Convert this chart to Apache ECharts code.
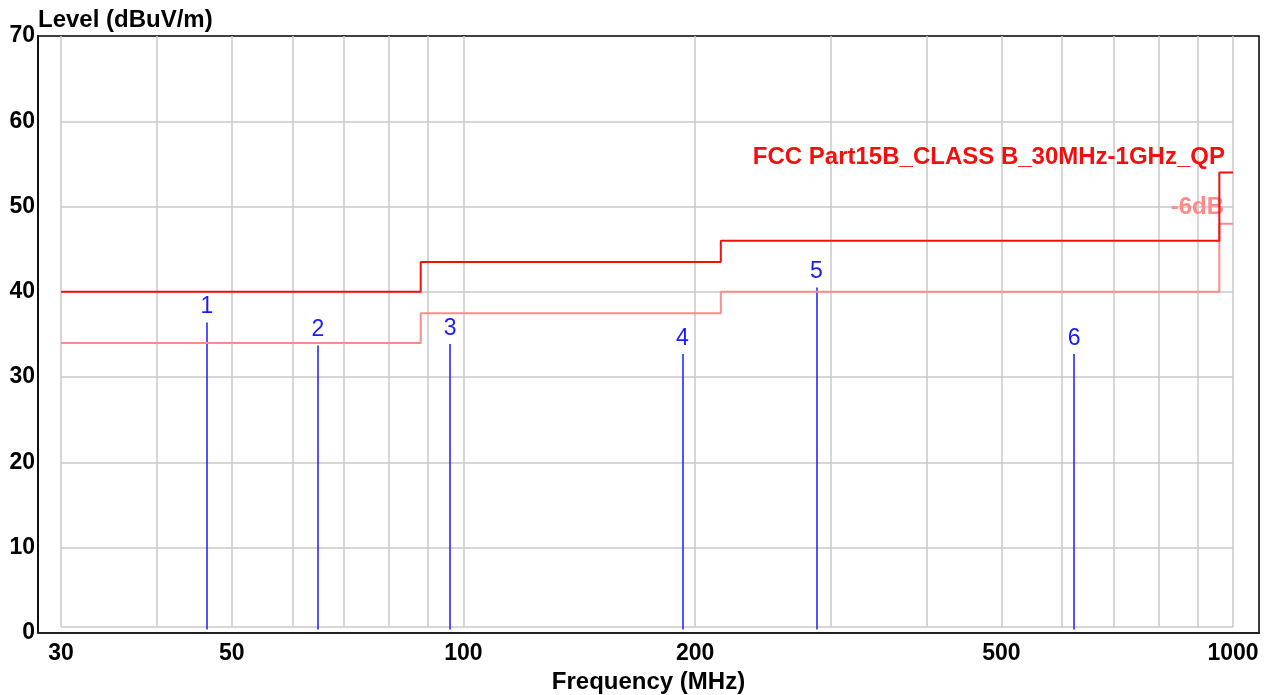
<!DOCTYPE html>
<html>
<head>
<meta charset="utf-8">
<script src="https://cdn.jsdelivr.net/npm/echarts@6/dist/echarts.min.js"></script>
<style>
html,body{margin:0;padding:0;background:#fff;}
#chart{width:1275px;height:695px;}
</style>
</head>
<body>
<div id="chart"></div>
<script>
// ---- data ----
const gridFreqs = [30,40,50,60,70,80,90,100,200,300,400,500,600,700,800,900,1000];
const freqLabels = [30,50,100,200,500,1000];
const levelGrid = [10,20,30,40,50,60];
const plotFloor = 0.7;
const limitFreq = [30,88,88,216,216,960,960,1000];
const limitQP   = [40,40,43.5,43.5,46,46,54,54];
const limit6dB  = [34,34,37.5,37.5,40,40,48,48];
const markerNo    = ['1','2','3','4','5','6'];
const markerFreq  = [46.4,64.7,96.1,192.5,287.5,621.9];
const markerLevel = [36.4,33.7,33.9,32.7,40.5,32.7];
const limitName = 'FCC Part15B_CLASS B_30MHz-1GHz_QP';
const marginName = '-6dB';

const FONT = '"Liberation Sans", Arial, sans-serif';

const chart = echarts.init(document.getElementById('chart'), null, {renderer:'canvas'});

const gridLines = [];
gridFreqs.forEach(f => gridLines.push([{coord:[f, plotFloor]},{coord:[f, 70]}]));
[plotFloor].concat(levelGrid).forEach(v => gridLines.push([{coord:[30, v]},{coord:[1000, v]}]));

const markerLines = markerFreq.map((f,i) => [
  {coord:[f, 0.4]},
  {coord:[f, markerLevel[i]], label:{formatter: markerNo[i]}}
]);

chart.setOption({
  animation:false,
  backgroundColor:'#fff',
  title:{
    text:'Level (dBuV/m)', left:33, top:3,
    textStyle:{fontFamily:FONT, fontSize:24, fontWeight:'bold', color:'#000'}
  },
  grid:{left:38, right:16, top:36, bottom:62, show:true, borderColor:'#000', borderWidth:1.5,
        containLabel:false, outerBoundsMode:'none'},
  xAxis:{
    type:'log', logBase:10, min:28, max:1081,
    name:'Frequency (MHz)', nameLocation:'middle', nameGap:33,
    nameTextStyle:{fontFamily:FONT, fontSize:24, fontWeight:'bold', color:'#000'},
    axisLine:{show:true, lineStyle:{color:'#222', width:2}},
    axisTick:{show:false}, splitLine:{show:false}, minorTick:{show:false},
    axisLabel:{customValues:freqLabels, margin:9, formatter:v => String(Math.round(v)),
      fontFamily:FONT, fontSize:23, fontWeight:'bold', color:'#000'}
  },
  yAxis:{
    type:'value', min:0, max:70, interval:10,
    axisLine:{show:true, lineStyle:{color:'#111', width:2}},
    axisTick:{show:false}, splitLine:{show:false},
    axisLabel:{margin:3, fontFamily:FONT, fontSize:23, fontWeight:'bold', color:'#000'}
  },
  series:[
    {
      type:'line', z:1, zlevel:0, data:[[30,0]], showSymbol:false, lineStyle:{opacity:0}, silent:true,
      markLine:{silent:true, symbol:['none','none'], label:{show:false},
        lineStyle:{color:'#c8c8c8', width:1.5, type:'solid'}, data:gridLines}
    },
    {
      type:'line', z:3, zlevel:1, showSymbol:false, data:limitFreq.map((f,i)=>[f, limit6dB[i]]),
      lineStyle:{color:'#ff8a8a', width:2},
      markPoint:{symbol:'circle', symbolSize:0, data:[{coord:[1000,48],
        label:{show:true, formatter:marginName, position:'left', distance:9, offset:[0,-16],
          fontFamily:FONT, fontSize:24, fontWeight:'bold', color:'#ff8a8a'}}]}
    },
    {
      type:'line', z:4, zlevel:1, showSymbol:false, data:limitFreq.map((f,i)=>[f, limitQP[i]]),
      lineStyle:{color:'#f40f0f', width:2},
      markPoint:{symbol:'circle', symbolSize:0, data:[{coord:[1000,54],
        label:{show:true, formatter:limitName, position:'left', distance:8, offset:[0,-15],
          fontFamily:FONT, fontSize:24, fontWeight:'bold', color:'#f40f0f'}}]}
    },
    {
      type:'line', z:5, zlevel:1, data:[[30,0]], showSymbol:false, lineStyle:{opacity:0}, silent:true,
      markLine:{silent:true, symbol:['none','none'],
        lineStyle:{color:'#1a1aff', width:1.5, type:'solid'},
        label:{show:true, position:'end', distance:4, fontFamily:FONT, fontSize:23, color:'#1a1aff'},
        data:markerLines}
    }
  ]
});
</script>
</body>
</html>
